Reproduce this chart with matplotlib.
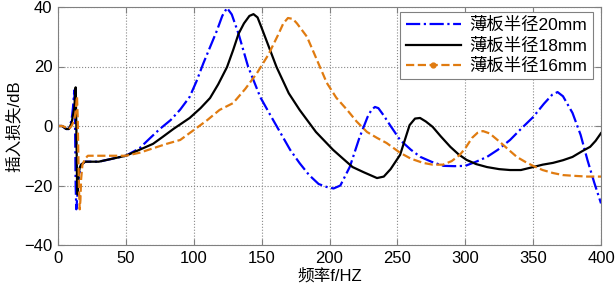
import numpy as np
import matplotlib
matplotlib.use("Agg")
import matplotlib.pyplot as plt
from matplotlib.lines import Line2D

plt.rcParams['font.family'] = ['Liberation Sans', 'Noto Sans CJK SC', 'DejaVu Sans']
plt.rcParams['font.size'] = 12

# 薄板半径20mm
x20 = [0, 3, 6, 8, 10, 11, 12, 12.5, 13, 13.5, 14, 15, 17, 20, 25, 30, 40, 50, 60, 68, 75,
       83, 90, 97, 102, 107, 112, 117, 121, 124.5, 128, 133, 140, 149, 156, 164, 171, 178, 185, 192, 198,
       203, 208, 215, 222, 228, 231, 233.5, 236, 240, 245, 252, 260, 267, 275, 284, 292, 300, 308,
       316, 324, 333, 341, 350, 358, 364, 368, 372, 379, 385, 390, 395, 400]
y20 = [0, 0, -1, -1, 2, 6, 12, 4, -20, -28, -25, -18, -13, -12, -12, -12, -11, -10, -7.5, -4, -1,
       2, 5.5, 9.8, 15, 21, 26.5, 32, 37, 39.7, 37.5, 31, 20, 9.7, 4, -2.4, -8, -12.5, -16.5, -19.5, -20.5,
       -21, -20, -13.7, -4, 3, 5.5, 6.4, 6, 3.5, 0, -4.7, -8, -10.4, -12, -13.4, -13.5, -13.4, -12,
       -10.4, -8, -4.7, -1, 3, 7.5, 10.5, 11.4, 10, 4.4, -3, -11.4, -19, -26]

# 薄板半径18mm
x18 = [0, 3, 6, 8, 10, 12, 13, 13.5, 14, 14.5, 15, 16, 17, 20, 25, 30, 40, 50, 60, 70, 77,
       85, 97, 105, 112, 118, 124.5, 129, 133, 137, 141, 144, 147, 150, 155, 161, 170, 178, 190, 202.6,
       210, 217, 225, 235, 240, 245, 252, 259, 263, 266.7, 271, 276, 282, 289, 295, 301,
       308, 316, 325, 333, 341, 350, 357, 364.6, 372, 379, 386, 392, 396, 400]
y18 = [0, 0, -1, -1, 1, 6, 13, 0, -18, -23, -17, -14, -13, -12, -12, -12, -11, -10, -8, -6, -3.7,
       -1, 2.7, 6, 9.4, 14, 19.8, 25.5, 31, 34.5, 37, 37.6, 36.5, 33, 27, 19.8, 11, 5.4, -2, -8,
       -11, -13.8, -15.5, -17.5, -17, -14.5, -9.7, 0.3, 2.5, 2.7, 1.5, -0.3, -3.5, -7, -9.5, -11.4,
       -12.8, -13.8, -14.5, -14.8, -14.8, -13.8, -13, -12.4, -11.5, -10.4, -8.5, -7, -5, -2.4]

# 薄板半径16mm
x16 = [0, 3, 6, 8, 10, 12, 13, 14, 14.5, 15, 15.5, 16, 16.5, 17, 18, 20, 22, 30, 40, 50, 60,
       70, 80, 90, 102, 110, 119, 129, 138, 146.6, 155, 162, 166, 169.4, 173, 176, 183.4, 190, 198,
       205, 213, 220, 227.6, 235, 242, 252, 260, 269, 276, 283.6, 290, 296, 300, 305, 309,
       313, 318, 325.6, 332, 338, 344, 350, 357, 364.6, 372, 382, 390, 400]
y16 = [0, 0, -0.5, -1, 0, 2, 5, 10, 3, -10, -22, -28, -25, -18, -13, -11, -10, -10, -10, -10, -9,
       -7.5, -6, -4.7, -0.7, 2, 5.4, 7.7, 12.5, 17.8, 24, 30.5, 34.5, 36.3, 36, 34.5, 30, 23, 14.5,
       9.5, 5.4, 1.5, -2, -4, -5.7, -9, -11, -12.4, -13, -13, -11.8, -9.7, -7.5, -4, -2.3,
       -1.7, -2.5, -5.4, -8, -10.4, -12, -13.4, -14.8, -15.8, -16.5, -16.8, -17, -17]

labels = ['薄板半径20mm', '薄板半径18mm', '薄板半径16mm']
orange = '#E07B10'

fig = plt.figure(figsize=(6.15, 2.88), dpi=100)
ax = fig.add_axes([58 / 615, 43 / 288, 543 / 615, 238 / 288])

ax.plot(x20, y20, '-.', color='#0000FF', lw=1.6)
ax.plot(x18, y18, '-', color='black', lw=1.6)
ax.plot(x16, y16, '--', color=orange, lw=1.6)

ax.set_xlim(0, 400)
ax.set_ylim(-40, 40)
ax.set_xticks(np.arange(0, 401, 50))
ax.set_yticks(np.arange(-40, 41, 20))
ax.grid(True, linestyle=':', color='#888888', lw=0.8)
ax.tick_params(direction='in', length=4, top=True, right=True, color='#808080', pad=4)
for s in ax.spines.values():
    s.set_color('#808080')

ax.set_xlabel('频率f/HZ', labelpad=2)
ax.set_ylabel('插入损失/dB', labelpad=2)

handles = [Line2D([], [], ls='-.', color='#0000FF', lw=1.6),
           Line2D([], [], ls='-', color='black', lw=1.6),
           Line2D([], [], ls='--', color=orange, lw=1.6, marker='o', markersize=3.5,
                  markevery=[1])]
leg = ax.legend(handles, labels, loc='upper right', bbox_to_anchor=(0.985, 0.979),
                borderaxespad=0, fancybox=False, framealpha=1, edgecolor='#808080',
                handlelength=3.2, handletextpad=0.5, labelspacing=0.25, borderpad=0.3,
                prop={'size': 12.5})
leg.get_frame().set_linewidth(0.8)

fig.savefig('out.png', dpi=100)
